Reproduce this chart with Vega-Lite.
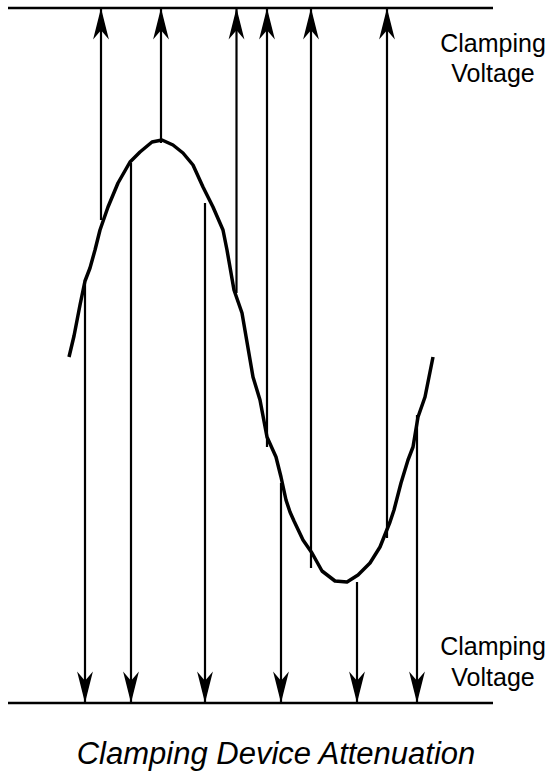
{
  "$schema": "https://vega.github.io/schema/vega-lite/v6.json",
  "width": 551,
  "height": 771,
  "padding": 0,
  "autosize": {"type": "none"},
  "background": "white",
  "config": {"view": {"stroke": null}},
  "datasets": {
    "wave": [
      {"t": 69, "v": 357}, {"t": 74, "v": 336}, {"t": 80, "v": 305}, {"t": 85, "v": 281},
      {"t": 90, "v": 268}, {"t": 95, "v": 250}, {"t": 100, "v": 230}, {"t": 108, "v": 207},
      {"t": 118, "v": 183}, {"t": 130, "v": 162}, {"t": 140, "v": 152}, {"t": 152, "v": 142},
      {"t": 162, "v": 140}, {"t": 173, "v": 145}, {"t": 183, "v": 153}, {"t": 193, "v": 165},
      {"t": 203, "v": 187}, {"t": 213, "v": 207}, {"t": 223, "v": 230}, {"t": 227, "v": 250},
      {"t": 234, "v": 290}, {"t": 242, "v": 313}, {"t": 253, "v": 377}, {"t": 260, "v": 400},
      {"t": 267, "v": 437}, {"t": 276, "v": 457}, {"t": 281, "v": 477}, {"t": 286, "v": 500},
      {"t": 290, "v": 512}, {"t": 294, "v": 521}, {"t": 303, "v": 540}, {"t": 312, "v": 553},
      {"t": 322, "v": 571}, {"t": 335, "v": 581}, {"t": 347, "v": 582}, {"t": 358, "v": 575},
      {"t": 370, "v": 563}, {"t": 380, "v": 547}, {"t": 390, "v": 522}, {"t": 394, "v": 510},
      {"t": 401, "v": 483}, {"t": 408, "v": 460}, {"t": 413, "v": 447}, {"t": 418, "v": 417},
      {"t": 425, "v": 397}, {"t": 429, "v": 377}, {"t": 433, "v": 357}
    ],
    "arrows": [
      {"t": 101, "from": 220, "to": 8, "dir": "up"},
      {"t": 161, "from": 143, "to": 8, "dir": "up"},
      {"t": 236.5, "from": 293, "to": 8, "dir": "up"},
      {"t": 267, "from": 447, "to": 8, "dir": "up"},
      {"t": 311, "from": 568, "to": 8, "dir": "up"},
      {"t": 387, "from": 538, "to": 8, "dir": "up"},
      {"t": 85, "from": 280, "to": 703, "dir": "down"},
      {"t": 131, "from": 163, "to": 703, "dir": "down"},
      {"t": 205, "from": 203, "to": 703, "dir": "down"},
      {"t": 281, "from": 483, "to": 703, "dir": "down"},
      {"t": 357, "from": 582, "to": 703, "dir": "down"},
      {"t": 417, "from": 415, "to": 703, "dir": "down"}
    ],
    "clamps": [
      {"level": "upper", "t0": 8, "t1": 493, "v": 8},
      {"level": "lower", "t0": 8, "t1": 493, "v": 703}
    ],
    "labels": [
      {"label": "Clamping", "t": 493, "v": 52},
      {"label": "Voltage", "t": 493, "v": 82},
      {"label": "Clamping", "t": 493, "v": 655},
      {"label": "Voltage", "t": 493, "v": 686}
    ],
    "title": [
      {"label": "Clamping Device Attenuation", "t": 276, "v": 764}
    ]
  },
  "encoding": {
    "x": {"field": "t", "type": "quantitative", "scale": {"domain": [0, 551], "nice": false, "zero": false}, "axis": null},
    "y": {"field": "v", "type": "quantitative", "scale": {"domain": [0, 771], "nice": false, "zero": false, "reverse": true}, "axis": null}
  },
  "layer": [
    {
      "data": {"name": "clamps"},
      "mark": {"type": "rule", "color": "black", "strokeWidth": 2.5},
      "encoding": {
        "x": {"field": "t0", "type": "quantitative"},
        "x2": {"field": "t1"},
        "y": {"field": "v", "type": "quantitative"}
      }
    },
    {
      "data": {"name": "arrows"},
      "mark": {"type": "rule", "color": "black", "strokeWidth": 2.2},
      "encoding": {
        "y": {"field": "from", "type": "quantitative"},
        "y2": {"field": "to"}
      }
    },
    {
      "data": {"name": "arrows"},
      "transform": [{"filter": "datum.dir === 'up'"}],
      "mark": {"type": "point", "filled": true, "color": "black", "opacity": 1, "strokeWidth": 0, "size": 1000, "shape": "M0,0L0.5,2L0,1.4L-0.5,2Z"},
      "encoding": {
        "y": {"field": "to", "type": "quantitative"}
      }
    },
    {
      "data": {"name": "arrows"},
      "transform": [{"filter": "datum.dir === 'down'"}],
      "mark": {"type": "point", "filled": true, "color": "black", "opacity": 1, "strokeWidth": 0, "size": 1000, "shape": "M0,0L0.5,-2L0,-1.4L-0.5,-2Z"},
      "encoding": {
        "y": {"field": "to", "type": "quantitative"}
      }
    },
    {
      "data": {"name": "wave"},
      "mark": {"type": "line", "color": "black", "strokeWidth": 3.5, "strokeJoin": "round"},
      "encoding": {}
    },
    {
      "data": {"name": "labels"},
      "mark": {"type": "text", "font": "Liberation Sans", "fontSize": 25, "align": "center", "baseline": "alphabetic", "color": "black"},
      "encoding": {
        "text": {"field": "label", "type": "nominal"}
      }
    },
    {
      "data": {"name": "title"},
      "mark": {"type": "text", "font": "Liberation Sans", "fontSize": 31, "fontStyle": "italic", "align": "center", "baseline": "alphabetic", "color": "black"},
      "encoding": {
        "text": {"field": "label", "type": "nominal"}
      }
    }
  ]
}
